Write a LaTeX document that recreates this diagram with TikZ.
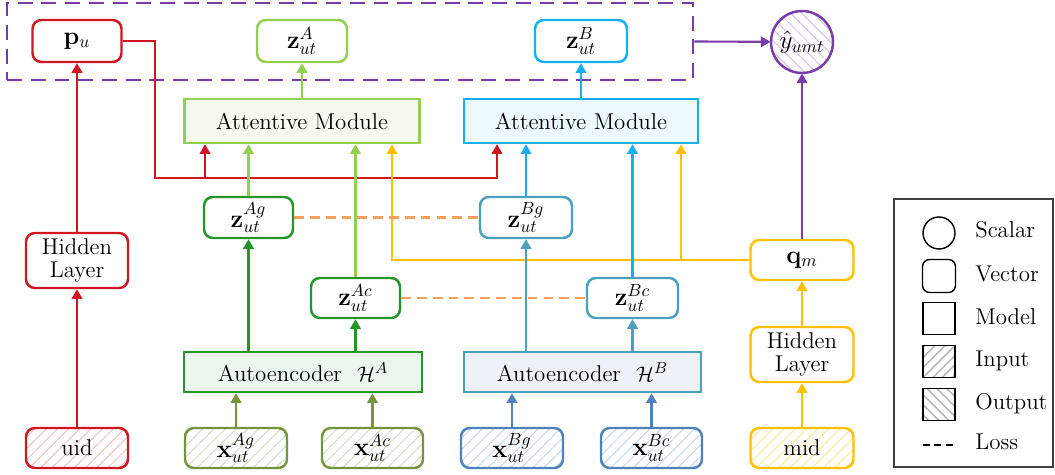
\documentclass[tikz,border=0pt]{standalone}
\usetikzlibrary{arrows.meta,patterns.meta}

\definecolor{cRed}{RGB}{208,22,32}
\definecolor{cLime}{RGB}{146,208,80}
\definecolor{cGreen}{RGB}{34,150,40}
\definecolor{cOlive}{RGB}{119,147,60}
\definecolor{cCyan}{RGB}{20,176,240}
\definecolor{cTeal}{RGB}{75,160,190}
\definecolor{cSteel}{RGB}{79,129,189}
\definecolor{cGold}{RGB}{255,192,0}
\definecolor{cOrange}{RGB}{247,160,90}
\definecolor{cPurple}{RGB}{120,60,170}

\tikzset{
  box/.style={draw, line width=1.4pt, rounded corners=5pt, font=\fontsize{13}{14}\selectfont, inner sep=1pt, text=black},
  vec/.style={box, fill=white},
  inp/.style={box, pattern={Lines[angle=45,distance=4.5pt,line width=0.5pt]}},
  model/.style={draw, line width=1.4pt, font=\fontsize{13}{15}\selectfont, inner sep=1pt, text=black},
  mathlbl/.style={font=\Large},
  arr/.style={line width=1.2pt, -{Triangle[width=6pt,length=5.5pt]}},
  loss/.style={cOrange, line width=1.3pt, dash pattern=on 5.5pt off 3.5pt},
  lgtext/.style={anchor=west, inner sep=0pt, font=\fontsize{13}{15}\selectfont, text height=1.6ex, text depth=0.4ex},
}

\begin{document}
\begin{tikzpicture}[x=0.02cm, y=-0.02cm]
    \useasboundingbox (0,0) rectangle (1055,475);

    % dashed group round the three learned vectors
    \node[draw=cPurple, line width=1.5pt, dash pattern=on 8.5pt off 5pt,
          minimum width=13.72cm, minimum height=1.54cm] (obj) at (350,41.5) {};

    % top row
    \node[vec, mathlbl, draw=cRed, minimum width=1.78cm, minimum height=0.84cm] (pu) at (77,41) {$\mathbf{p}_u$};
    \node[vec, mathlbl, draw=cLime, minimum width=1.8cm, minimum height=0.84cm] (zA) at (302,41) {$\mathbf{z}^{A}_{ut}$};
    \node[vec, mathlbl, draw=cCyan, minimum width=1.84cm, minimum height=0.84cm] (zB) at (581,41) {$\mathbf{z}^{B}_{ut}$};
    \node[circle, draw=cPurple, line width=1.4pt, minimum size=1.24cm, inner sep=0pt, font=\Large,
          pattern={Lines[angle=-45,distance=4.5pt,line width=0.5pt]}, pattern color=cPurple!35] (yhat) at (802,42) {$\hat{y}_{umt}$};

    % attentive modules
    \node[model, draw=cLime, fill=cLime!10, minimum width=4.7cm, minimum height=0.88cm] (attA) at (302,121) {Attentive Module};
    \node[model, draw=cCyan, fill=cCyan!8, minimum width=4.68cm, minimum height=0.88cm] (attB) at (581,121) {Attentive Module};

    % latent vectors
    \node[vec, mathlbl, draw=cGreen, minimum width=1.78cm, minimum height=0.82cm] (zAg) at (248.5,217.5) {$\mathbf{z}^{Ag}_{ut}$};
    \node[vec, mathlbl, draw=cGreen, minimum width=1.78cm, minimum height=0.8cm] (zAc) at (355.5,298) {$\mathbf{z}^{Ac}_{ut}$};
    \node[vec, mathlbl, draw=cTeal, minimum width=1.84cm, minimum height=0.82cm] (zBg) at (526,217.5) {$\mathbf{z}^{Bg}_{ut}$};
    \node[vec, mathlbl, draw=cTeal, minimum width=1.82cm, minimum height=0.8cm] (zBc) at (632.5,298) {$\mathbf{z}^{Bc}_{ut}$};

    % autoencoders
    \node[model, draw=cGreen, fill=cGreen!9, minimum width=4.76cm, minimum height=0.8cm] (aeA) at (303,372) {Autoencoder~~$\mathcal{H}^A$};
    \node[model, draw=cTeal, fill=cSteel!10, minimum width=4.74cm, minimum height=0.8cm] (aeB) at (582.5,372) {Autoencoder~~$\mathcal{H}^B$};

    % user side
    \node[vec, draw=cRed, align=center, minimum width=2.04cm, minimum height=1.1cm] (hidU) at (77,260.5) {Hidden\\[-1pt]Layer};
    \node[inp, draw=cRed, pattern color=cRed!30, minimum width=2.04cm, minimum height=0.8cm] (uid) at (77,448) {uid};

    % item side
    \node[vec, mathlbl, draw=cGold, minimum width=2.06cm, minimum height=0.8cm] (qm) at (802,260) {$\mathbf{q}_m$};
    \node[vec, draw=cGold, align=center, minimum width=2.06cm, minimum height=1.1cm] (hidM) at (802,354.5) {Hidden\\[-1pt]Layer};
    \node[inp, draw=cGold, pattern color=cGold!45, minimum width=2.06cm, minimum height=0.8cm] (mid) at (802,448) {mid};

    % inputs
    \node[inp, mathlbl, draw=cOlive, pattern color=cOlive!35, minimum width=2.04cm, minimum height=0.8cm] (xAg) at (236,448) {$\mathbf{x}^{Ag}_{ut}$};
    \node[inp, mathlbl, draw=cOlive, pattern color=cOlive!35, minimum width=2.02cm, minimum height=0.8cm] (xAc) at (372.5,448) {$\mathbf{x}^{Ac}_{ut}$};
    \node[inp, mathlbl, draw=cSteel, pattern color=cSteel!35, minimum width=2.04cm, minimum height=0.8cm] (xBg) at (512,448) {$\mathbf{x}^{Bg}_{ut}$};
    \node[inp, mathlbl, draw=cSteel, pattern color=cSteel!35, minimum width=2.02cm, minimum height=0.8cm] (xBc) at (651.5,448) {$\mathbf{x}^{Bc}_{ut}$};

    % user path
    \draw[arr, cRed] (uid) -- (hidU);
    \draw[arr, cRed] (hidU) -- (pu);
    \coordinate (rbend) at (155,178);
    \coordinate (rA) at (205,178);
    \coordinate (rB) at (497,178);
    \draw[arr, cRed] (pu.east) -| (rbend) -| (attB.south -| rB);
    \draw[arr, cRed] (rA) -- (attA.south -| rA);

    % item path
    \coordinate (yA) at (392,260);
    \coordinate (yB) at (681,260);
    \draw[arr, cGold] (mid) -- (hidM);
    \draw[arr, cGold] (hidM) -- (qm);
    \draw[arr, cGold] (qm.west) -| (attA.south -| yA);
    \draw[arr, cGold] (yB) -- (attB.south -| yB);
    \draw[arr, cPurple] (qm) -- (yhat);
    \draw[arr, cPurple] (obj.east) -- (yhat);

    % domain A
    \draw[arr, cOlive] (xAg) -- (xAg |- aeA.south);
    \draw[arr, cOlive] (xAc) -- (xAc |- aeA.south);
    \draw[arr, cGreen] (aeA.north -| zAg) -- (zAg);
    \draw[arr, cGreen] (aeA.north -| zAc) -- (zAc);
    \draw[arr, cLime] (zAg) -- (zAg |- attA.south);
    \draw[arr, cLime] (zAc) -- (zAc |- attA.south);
    \draw[arr, cLime] (attA) -- (zA);

    % domain B
    \draw[arr, cSteel] (xBg) -- (xBg |- aeB.south);
    \draw[arr, cSteel] (xBc) -- (xBc |- aeB.south);
    \draw[arr, cTeal] (aeB.north -| zBg) -- (zBg);
    \draw[arr, cTeal] (aeB.north -| zBc) -- (zBc);
    \draw[arr, cCyan] (zBg) -- (zBg |- attB.south);
    \draw[arr, cCyan] (zBc) -- (zBc |- attB.south);
    \draw[arr, cCyan] (attB) -- (zB);

    % alignment losses
    \draw[loss] (zAg) -- (zBg);
    \draw[loss] (zAc) -- (zBc);

    % legend
    \node[draw=black!75, line width=0.8pt, minimum width=3.18cm, minimum height=5.36cm] (legend) at (973.5,333) {};
    \node[circle, draw, line width=0.8pt, minimum size=0.64cm] (lgScalar) at (939,233) {};
    \node[draw, line width=0.8pt, rounded corners=4pt, minimum size=0.66cm] (lgVector) at (939,276) {};
    \node[draw, line width=0.8pt, minimum size=0.64cm] (lgModel) at (939,318.5) {};
    \node[draw, line width=0.8pt, minimum size=0.64cm, pattern={Lines[angle=45,distance=4pt,line width=1pt]}, pattern color=gray!55] (lgInput) at (939,361.5) {};
    \node[draw, line width=0.8pt, minimum size=0.64cm, pattern={Lines[angle=-45,distance=4pt,line width=1pt]}, pattern color=gray!55] (lgOutput) at (939,404.5) {};
    \coordinate (lgLossA) at (923,445);
    \coordinate (lgLossB) at (956,445);
    \draw[line width=1.3pt, dash pattern=on 4pt off 2.5pt] (lgLossA) -- (lgLossB);
    \node[lgtext] at (975,233) {Scalar};
    \node[lgtext] at (975,277) {Vector};
    \node[lgtext] at (975,320) {Model};
    \node[lgtext] at (975,362) {Input};
    \node[lgtext] at (975,405) {Output};
    \node[lgtext] at (975,445) {Loss};

\end{tikzpicture}
\end{document}
